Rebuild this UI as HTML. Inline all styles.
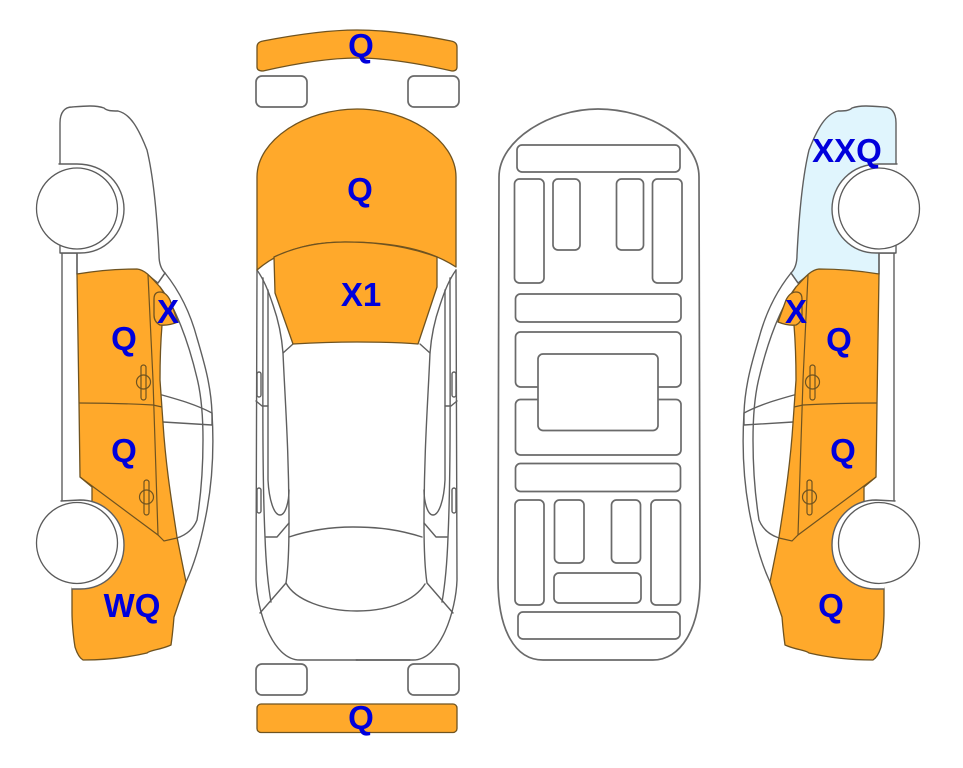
<!DOCTYPE html>
<html>
<head>
<meta charset="utf-8">
<style>
html,body{margin:0;padding:0;background:#fff;width:963px;height:768px;overflow:hidden}
svg{display:block}
.l{fill:none;stroke:#5f5f5f;stroke-width:1.4;stroke-linejoin:round;stroke-linecap:round}
.r{fill:#fff;stroke:#6a6a6a;stroke-width:1.7}
.o{fill:#ffa92b;stroke:#6f5320;stroke-width:1.3;stroke-linejoin:round}
.d{fill:none;stroke:#6f5320;stroke-width:1.2}
.a{fill:#fff;stroke:#5a5a5a;stroke-width:1.3}
text{font-family:"Liberation Sans",sans-serif;font-weight:bold;font-size:33px;fill:#0000dc;text-anchor:middle}
</style>
</head>
<body>
<svg width="963" height="768" viewBox="0 0 963 768" xmlns="http://www.w3.org/2000/svg">
<defs>
<g id="sideLines">
  <path class="l" d="M165 273 C177 288 189 308 197 338 C204 362 211 385 212 413 C214 445 213 482 205 520 C200 545 193 567 186 582"/>
  <path class="l" d="M158 283 L165 273"/>
  <path class="l" d="M160 287 C175 306 188 340 197 378 C202 398 203 420 203 440 C203 470 201 495 197 520 C193 530 186 535 177 538"/>
  <path class="l" d="M162 395 C180 400 197 405 212 413 L212 425 L163 422"/>
  <path class="l" d="M62 253 L62 502"/>
  <path class="l" d="M77 253 L77 274"/>
  <path class="o" d="M77 274 C95 271 118 269 137 269 C145 270 150 276 160 287 L166 296 L162 325 C160 350 160 370 160 380 L163 423 C166 470 173 510 177 537 L186 582 L174 617 C173 630 172 638 171 645 C160 650 150 650 147 653 C130 657 110 660 83 660 C78 657 76 650 75 647 C73 635 72 620 72 613 L72 589 L92 503 L92 487 L80 477 L79 403 Z"/>
  <path class="d" d="M148 275 L153 380 L158 535"/>
  <path class="d" d="M79 403 C105 403 135 404 153 405 L162 407"/>
  <path class="d" d="M80 477 L158 535 L164 541 L177 538"/>
  <path class="o" d="M154 299 Q154 292 160 292 Q166 292 170 300 L178 322 Q168 326 160 325 Q154 322 154 315 Z"/>
  <path class="a" d="M61 501 L80 500 C105 500 124 520 124 545 C124 570 105 589 80 589 L72 589 Z" style="stroke:none"/>
  <path class="l" d="M61 501 L80 500 C105 500 124 520 124 545 C124 570 105 589 80 589 L72 589"/>
  <circle class="a" cx="77" cy="543" r="40.5"/>
  <g class="d">
    <rect x="141" y="365" width="5" height="35" rx="2.5" class="d"/>
    <circle cx="143.500" cy="382" r="7" class="d"/>
    <rect x="144" y="480" width="5" height="35" rx="2.500" class="d"/>
    <circle cx="146.500" cy="497" r="7" class="d"/>
  </g>
</g>
<g id="upperArch">
  <path class="a" d="M59 164 L77 164 C105 164 124 185 124 209 C124 233 105 253 80 253 L61 253 Z" style="stroke:none"/>
  <path class="l" d="M59 164 L77 164 C105 164 124 185 124 209 C124 233 105 253 80 253 L61 253"/>
  <circle class="a" cx="77" cy="208.500" r="40.500"/>
</g>
<g id="topSide">
  <path class="l" d="M257 270 L256 580 C257 610 272 660 300 660 L357 660"/>
  <path class="l" d="M263 278 C263 380 262 470 265 537 C266 565 268 585 271 602"/>
  <path class="l" d="M268 290 L268 480 C269 500 274 515 280 515 C286 515 289 500 289 490"/>
  <path class="l" d="M257 270 C264 280 268 290 273 305 C279 322 282 340 283 353 L293 344"/>
  <path class="l" d="M283 353 C285 400 289 450 289 523 C289 550 288 570 286 583 L260 613"/>
  <path class="l" d="M289 523 L277 537 L266 537"/>
  <path class="l" d="M256 401 L262 406 L268 406"/>
  <rect x="257" y="372" width="4" height="25" rx="2" class="l"/>
  <rect x="257" y="488" width="4" height="25" rx="2" class="l"/>
</g>
</defs>

<!-- Left side view -->
<path class="l" style="fill:#fff" d="M60 164 L60 123 C60 112 65 107 72 107 C85 106 95 105 104 108 C107 111 112 111 118 111 C130 114 138 127 147 150 C153 175 157 215 159 255 C159 265 162 270 165 273 L158 283 L148 275 L77 274 L77 253 L60 253 Z"/>
<use href="#sideLines"/>
<use href="#upperArch"/>

<!-- Right side view -->
<g transform="translate(956,0) scale(-1,1)">
  <path class="l" style="fill:#e0f5fd" d="M60 164 L60 123 C60 112 65 107 72 107 C85 106 95 105 104 108 C107 111 112 111 118 111 C130 114 138 127 147 150 C153 175 157 215 159 255 C159 265 162 270 165 273 L158 283 L148 275 L77 274 L77 253 L60 253 Z"/>
  <use href="#sideLines"/>
  <use href="#upperArch"/>
</g>

<!-- Top view -->
<path class="o" d="M257 47 Q257 42 263 41 Q320 30 357 30 Q395 30 451 41 Q457 42 457 47 L457 67 Q457 71 452 71 Q395 58 357 58 Q320 58 263 71 Q257 71 257 67 Z"/>
<rect class="r" x="256" y="76" width="51" height="31" rx="6"/>
<rect class="r" x="408" y="76" width="51" height="31" rx="6"/>
<use href="#topSide"/>
<g transform="translate(713,0) scale(-1,1)"><use href="#topSide"/></g>
<path class="l" d="M357 660 L410 660"/>
<path class="o" d="M257 177 C257 140 305 109 357 109 C408 109 456 140 456 177 L456 267 C430 250 395 242 345 242 C310 242 280 250 257 270 Z"/>
<path class="o" d="M274 257 C295 247 320 242 345 242 C380 242 410 247 437 257 L437 287 L418 344 C395 342 375 342 357 342 C335 342 310 343 293 344 L275 293 Z"/>
<path class="l" d="M289 537 C310 530 330 527 353 527 C380 527 400 530 422 537"/>
<path class="l" d="M286 583 C295 600 325 611 357 611 C390 611 415 600 425 584"/>
<rect class="r" x="256" y="664" width="51" height="31" rx="6"/>
<rect class="r" x="408" y="664" width="51" height="31" rx="6"/>
<rect class="o" x="257" y="704" width="200" height="28.500" rx="4"/>

<!-- Underside view -->
<path class="r" d="M499 177 C499 140 550 109 598 109 C650 109 699 140 699 177 L700 580 C700 630 680 660 653 660 L543 660 C515 660 498 630 498 580 Z"/>
<g fill="none">
  <rect class="r" x="517" y="145" width="163" height="27" rx="5"/>
  <rect class="r" x="514.500" y="179" width="29.500" height="104" rx="5"/>
  <rect class="r" x="553" y="179" width="27" height="71" rx="5"/>
  <rect class="r" x="616.500" y="179" width="27" height="71" rx="5"/>
  <rect class="r" x="652.500" y="179" width="29.500" height="104" rx="5"/>
  <rect class="r" x="515.500" y="294" width="165.500" height="28" rx="5"/>
  <rect class="r" x="515.500" y="332" width="165.500" height="55" rx="5"/>
  <rect class="r" x="515.500" y="399.500" width="165.500" height="55.500" rx="5"/>
  <rect class="r" x="538" y="354" width="120" height="76.500" rx="5"/>
  <rect class="r" x="515.500" y="463.500" width="165" height="28" rx="5"/>
  <rect class="r" x="515" y="500" width="29" height="105" rx="5"/>
  <rect class="r" x="554.500" y="500" width="29.500" height="63" rx="5"/>
  <rect class="r" x="611.500" y="500" width="29" height="63" rx="5"/>
  <rect class="r" x="651" y="500" width="29.500" height="105" rx="5"/>
  <rect class="r" x="554" y="573" width="87" height="30" rx="5"/>
  <rect class="r" x="518" y="612" width="162" height="27" rx="5"/>
</g>

<!-- Labels -->
<text x="361" y="57">Q</text>
<text x="360" y="201">Q</text>
<text x="361" y="306">X1</text>
<text x="361" y="729">Q</text>
<text x="124" y="350">Q</text>
<text x="168" y="323">X</text>
<text x="124" y="462">Q</text>
<text x="132" y="617">WQ</text>
<text x="847" y="162">XXQ</text>
<text x="796" y="323">X</text>
<text x="839" y="351">Q</text>
<text x="843" y="462">Q</text>
<text x="831" y="617">Q</text>
</svg>
</body>
</html>
